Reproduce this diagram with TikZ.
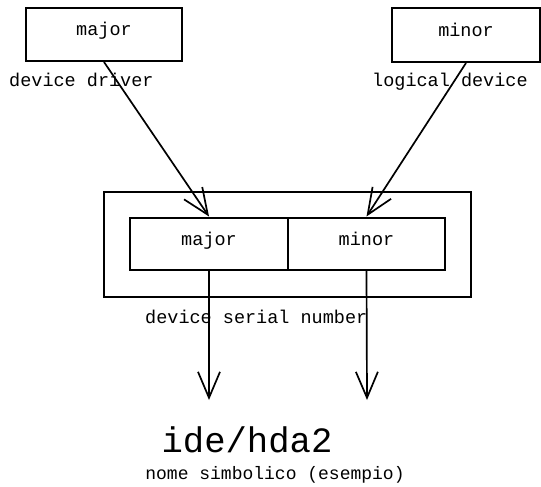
\documentclass[tikz,border=0pt]{standalone}
\usepackage{fontspec}
\setmainfont{Liberation Mono}
\usetikzlibrary{arrows.meta}
\begin{document}
\begin{tikzpicture}[x=1pt,y=-1pt,
  box/.style={draw,line width=2pt,inner sep=0pt,text height=8pt,text depth=5pt,
    font=\fontsize{18.5}{20}\selectfont},
  caption/.style={inner sep=0pt,font=\fontsize{18.5}{20}\selectfont},
  link/.style={line width=1.7pt,-{Straight Barb[length=26pt,width=22pt,line width=1.7pt]}}]
  \useasboundingbox (0,0) rectangle (541,487);
  % source fields
  \node[box,minimum width=156pt,minimum height=53pt] (drv) at (104,34.5) {major};
  \node[box,minimum width=148pt,minimum height=54pt] (ldev) at (466,35) {minor};
  \node[caption,anchor=base west] (drvlbl) at (9,87) {device driver};
  \node[caption,anchor=base west] (ldevlbl) at (372,87) {logical device};
  % device serial number
  \node[box,minimum width=367pt,minimum height=105pt] (dsn) at (287.5,244.5) {};
  \node[box,minimum width=158pt,minimum height=52pt] (imaj) at (209,243.5) {major};
  \node[box,minimum width=157pt,minimum height=52pt] (imin) at (366.5,243.5) {minor};
  \node[caption,anchor=base west] (dsnlbl) at (145,323) {device serial number};
  % symbolic name
  \coordinate (tmaj) at (209,400);
  \coordinate (tmin) at (367,400);
  \node[inner sep=0pt,anchor=base,font=\fontsize{35.6}{38}\selectfont] (name) at (247,452) {ide/hda2};
  \node[caption,anchor=base,font=\fontsize{18}{20}\selectfont] (namelbl) at (275,479) {nome simbolico (esempio)};
  % connectors
  \draw[link] (drv.south) -- (imaj.north);
  \draw[link] (ldev.south) -- (imin.north);
  \draw[link] (imaj.south) -- (tmaj);
  \draw[link] (imin.south) -- (tmin);
\end{tikzpicture}
\end{document}
